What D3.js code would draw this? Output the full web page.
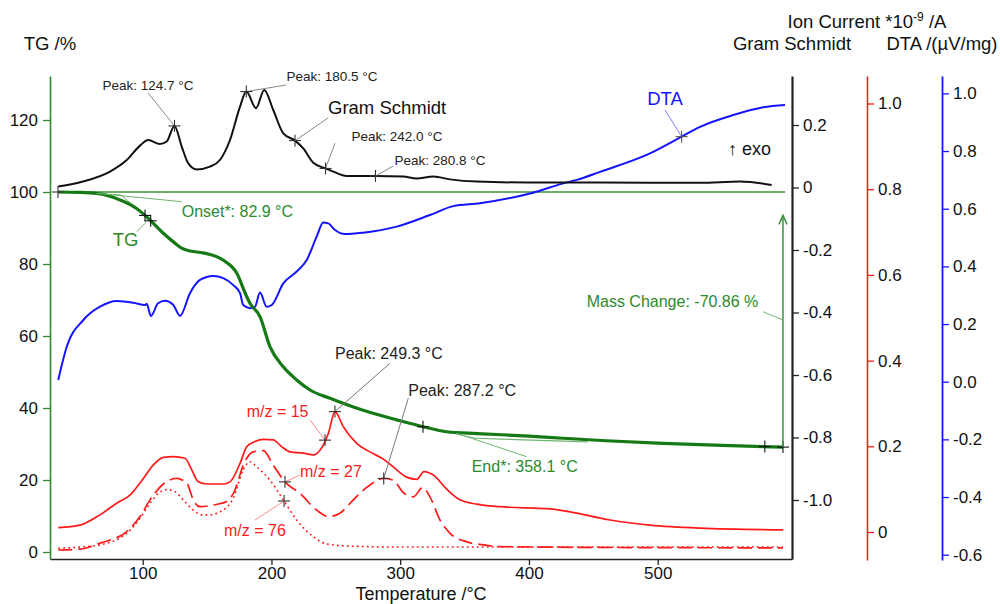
<!DOCTYPE html>
<html>
<head>
<meta charset="utf-8">
<script src="https://cdn.jsdelivr.net/npm/d3@7"></script>
<style>
  body { margin: 0; background: #fff; }
  svg { display: block; font-family: "Liberation Sans", Arial, sans-serif; }
</style>
</head>
<body>
<svg id="chart" width="1000" height="604"></svg>
<script>
// ---- TG mass curve (%) ----
const tgTemp  = [34.2, 50, 64.3, 82.4, 95, 103.1, 115.8, 125, 130.3, 137, 146.8, 162.4, 173, 180.8, 183.3, 191.1, 198.9, 209, 219.6, 230, 245.5, 270, 297.3, 317.7, 336.1, 360, 400, 426.4, 460, 504.1, 550, 597.3];
const tgValue = [100, 99.9, 99.6, 97.8, 95.5, 93.1, 88.6, 85.8, 84.4, 83.6, 83.1, 81.1, 77.5, 70.9, 69.1, 65.4, 57.0, 51.5, 47.8, 45.0, 42.7, 39.5, 36.7, 34.8, 33.4, 32.9, 32.2, 31.6, 30.9, 30.2, 29.6, 29.14];

// ---- Gram Schmidt signal ----
const gsTemp  = [34.4, 53.6, 74.6, 87.6, 97.9, 104.3, 113.4, 118.6, 124.7, 130.3, 135.4, 141.9, 152.3, 160, 167.8, 175.6, 180.5, 188, 194.4, 201.4, 209.2, 218.3, 224.7, 232.5, 242.0, 248, 258.4, 280.8, 302.4, 312.8, 325.7, 338.7, 359.4, 400, 455.2, 532.9, 563.9, 588.5];
const gsValue = [0.003, 0.019, 0.051, 0.088, 0.134, 0.152, 0.139, 0.147, 0.197, 0.131, 0.077, 0.058, 0.067, 0.088, 0.152, 0.259, 0.307, 0.254, 0.312, 0.248, 0.173, 0.150, 0.125, 0.079, 0.061, 0.051, 0.037, 0.037, 0.035, 0.029, 0.035, 0.026, 0.019, 0.016, 0.016, 0.015, 0.019, 0.008];

// ---- DTA signal (µV/mg) ----
const dtaTemp  = [34.4, 41, 53.9, 66.8, 79.8, 92.7, 101.8, 103.1, 106.4, 111.9, 117.3, 123.8, 129, 136.7, 144.5, 154.8, 162.6, 170.4, 175.6, 178.1, 183.5, 187.2, 191.1, 196.3, 200.2, 209.2, 219.6, 227.4, 235.1, 240.3, 244.2, 249.4, 257.1, 271.3, 297.3, 323.1, 341.2, 362, 400.8, 426.7, 437.1, 455.2, 494, 518.6, 532.9, 558.7, 582, 598.9];
const dtaValue = [0.006, 0.121, 0.214, 0.260, 0.280, 0.274, 0.266, 0.270, 0.228, 0.272, 0.281, 0.266, 0.228, 0.307, 0.353, 0.367, 0.359, 0.335, 0.307, 0.266, 0.255, 0.260, 0.309, 0.260, 0.266, 0.341, 0.382, 0.422, 0.503, 0.552, 0.549, 0.526, 0.512, 0.517, 0.538, 0.578, 0.609, 0.619, 0.653, 0.688, 0.700, 0.728, 0.792, 0.850, 0.884, 0.925, 0.952, 0.960];

// ---- Ion currents (*10^-9 A) ----
const mz15Temp  = [34.4, 51.3, 66.8, 79.8, 90.1, 100.5, 108.2, 116, 123.8, 132.9, 138.1, 143.2, 149.7, 162.6, 167.8, 175.6, 180.8, 187.2, 193.7, 201.4, 208, 214.4, 224.7, 232.5, 237.7, 244.2, 249.3, 255.8, 266.2, 276.5, 286.9, 294.6, 305, 312.8, 318.5, 325.7, 336.1, 346.4, 359.4, 377.5, 416.4, 431.9, 463, 494, 532.9, 597.5];
const mz15Value = [0.010, 0.016, 0.040, 0.067, 0.086, 0.125, 0.156, 0.174, 0.176, 0.172, 0.145, 0.117, 0.112, 0.112, 0.117, 0.160, 0.199, 0.211, 0.216, 0.215, 0.199, 0.187, 0.184, 0.180, 0.191, 0.230, 0.281, 0.246, 0.207, 0.187, 0.170, 0.152, 0.128, 0.123, 0.141, 0.133, 0.100, 0.075, 0.065, 0.059, 0.054, 0.047, 0.028, 0.016, 0.009, 0.005];

const mz27Temp  = [34.4, 51.3, 66.8, 87.6, 97.9, 105.7, 116, 126.2, 134.2, 139.3, 144.5, 154.8, 165.2, 171.7, 178.1, 185.9, 193.7, 201.4, 210.5, 222.2, 235.1, 244.2, 253.2, 263.6, 274, 287.2, 294.6, 302.4, 310.2, 317.5, 323.1, 330.9, 338.7, 351.7, 364.5, 377.5, 455.2, 597.3];
const mz27Value = [-0.042, -0.040, -0.026, 0.001, 0.036, 0.075, 0.112, 0.125, 0.114, 0.075, 0.059, 0.063, 0.071, 0.098, 0.156, 0.187, 0.190, 0.156, 0.117, 0.090, 0.051, 0.036, 0.044, 0.075, 0.104, 0.125, 0.121, 0.092, 0.082, 0.104, 0.082, 0.028, -0.003, -0.023, -0.030, -0.034, -0.036, -0.037];

const mz76Temp  = [34.4, 51.3, 66.8, 87.6, 97.9, 105.7, 112, 118.6, 125.1, 131.5, 139.3, 145.8, 152, 160, 170.4, 178.1, 183.3, 188.5, 198.9, 209.2, 219.6, 232.5, 242.9, 261, 299.8, 597.3];
const mz76Value = [-0.038, -0.035, -0.030, -0.003, 0.032, 0.067, 0.090, 0.099, 0.094, 0.075, 0.051, 0.040, 0.040, 0.047, 0.079, 0.145, 0.164, 0.152, 0.121, 0.075, 0.028, -0.011, -0.028, -0.033, -0.035, -0.035];

// ---- Axis ticks ----
const xMajorTicks   = [100, 200, 300, 400, 500];
const xMinorTicks   = [40, 60, 80, 120, 140, 160, 180, 220, 240, 260, 280, 320, 340, 360, 380, 420, 440, 460, 480, 520, 540, 560, 580, 600];
const tgMajorTicks  = [0, 20, 40, 60, 80, 100, 120];
const tgMinorTicks  = [10, 30, 50, 70, 90, 110, 130];
const gsMajorTicks  = [-1.0, -0.8, -0.6, -0.4, -0.2, 0, 0.2];
const gsMinorTicks  = [-1.1, -0.9, -0.7, -0.5, -0.3, -0.1, 0.1, 0.3];
const icMajorTicks  = [0, 0.2, 0.4, 0.6, 0.8, 1.0];
const icMinorTicks  = [0.1, 0.3, 0.5, 0.7, 0.9];
const dtaMajorTicks = [-0.6, -0.4, -0.2, 0, 0.2, 0.4, 0.6, 0.8, 1.0];
const dtaMinorTicks = [-0.5, -0.3, -0.1, 0.1, 0.3, 0.5, 0.7, 0.9];

// ---- Evaluated results ----
const onsetTemp = 82.9;
const endTemp = 358.1;
const massChange = -70.86;
const gsPeaks = [124.7, 180.5, 242.0, 280.8];
const mz15Peak = 249.3;
const mz27Peak = 287.2;

const GREEN = "#157a15", GREEN_TXT = "#2b8a2b", GREEN_THIN = "#6fb56f";
const RED = "#ff1a1a", BLUE = "#1414ff";
const svg = d3.select("#chart");
svg.append("rect").attr("width", 1000).attr("height", 604).attr("fill", "#fff");

// Stretch a calibrated scale over the drawn axis span
function span(scale, lo, hi) {
  return scale.copy().domain([scale.invert(lo), scale.invert(hi)]).range([lo, hi]);
}
const x    = span(d3.scaleLinear().domain([100, 500]).range([142.7, 657.7]), 50, 792);
const yTG  = span(d3.scaleLinear().domain([0, 100]).range([552, 192]), 559, 76);
const yGS  = span(d3.scaleLinear().domain([0, 0.2]).range([187.5, 125]), 559, 76);
const yIC  = span(d3.scaleLinear().domain([0, 1]).range([532, 103.5]), 560, 76);
const yDTA = span(d3.scaleLinear().domain([0, 1]).range([381.7, 93.4]), 560, 76);

// plain hyphen-minus number formats
const fmtInt = d => String(Math.round(d));
const fmt1 = d => (Math.abs(d) < 1e-9 ? 0 : d).toFixed(1);
const fmt1Zero = d => Math.abs(d) < 1e-9 ? "0" : d.toFixed(1);

function drawAxis(axisFn, scale, majors, minors, fmt, tx, ty, color, width, size, pad) {
  const g = svg.append("g").attr("transform", `translate(${tx},${ty})`);
  g.call(axisFn(scale).tickValues(minors).tickSize(4).tickSizeOuter(0).tickFormat(""));
  g.call(axisFn(scale).tickValues(majors).tickSize(size).tickPadding(pad).tickSizeOuter(0).tickFormat(fmt));
  g.selectAll("path.domain").attr("stroke", color).attr("stroke-width", width);
  g.selectAll(".tick line").attr("stroke", color).attr("stroke-width", 1.3);
  g.selectAll(".tick text").attr("fill", "#111").style("font-size", "17px")
    .style("font-family", '"Liberation Sans", Arial, sans-serif');
  return g;
}

drawAxis(d3.axisBottom, x, xMajorTicks, xMinorTicks, fmtInt, 0, 559, "#222", 1.6, 6, 2);
drawAxis(d3.axisLeft, yTG, tgMajorTicks, tgMinorTicks, fmtInt, 50, 0, "#2e8b2e", 1.6, 7, 5);
drawAxis(d3.axisRight, yGS, gsMajorTicks, gsMinorTicks, fmt1Zero, 792, 0, "#222", 2.2, 7, 4);
drawAxis(d3.axisRight, yIC, icMajorTicks, icMinorTicks, fmt1Zero, 867, 0, RED, 1.6, 7, 4);
drawAxis(d3.axisRight, yDTA, dtaMajorTicks, dtaMinorTicks, fmt1, 942, 0, BLUE, 1.8, 7, 4);

// ---- axis titles ----
const title = (txt, cx, by, fs) => svg.append("text").attr("x", cx).attr("y", by)
  .attr("text-anchor", "middle").style("font-size", (fs || 18.5) + "px").attr("fill", "#111").text(txt);
title("TG /%", 50, 50);
title("Gram Schmidt", 792, 50);
title("DTA /(µV/mg)", 942, 50);
title("Temperature /°C", 421, 600, 18);
const ion = svg.append("text").attr("x", 867).attr("y", 28).attr("text-anchor", "middle")
  .style("font-size", "18.5px").attr("fill", "#111");
ion.append("tspan").text("Ion Current *10");
ion.append("tspan").attr("dy", -7).style("font-size", "12px").text("-9");
ion.append("tspan").attr("dy", 7).text(" /A");

// ---- curves ----
const zip = (a, b) => a.map((t, i) => [t, b[i]]);
function curve(temps, vals, yScale, color, w, dash) {
  const line = d3.line().x(d => x(d[0])).y(d => yScale(d[1])).curve(d3.curveMonotoneX);
  const p = svg.append("path").datum(zip(temps, vals)).attr("d", line)
    .attr("fill", "none").attr("stroke", color).attr("stroke-width", w)
    .attr("stroke-linejoin", "round");
  if (dash) p.attr("stroke-dasharray", dash);
  return p;
}
function interp(temps, vals, t) {
  for (let i = 1; i < temps.length; i++) {
    if (t <= temps[i]) {
      const f = (t - temps[i - 1]) / (temps[i] - temps[i - 1]);
      return vals[i - 1] + f * (vals[i] - vals[i - 1]);
    }
  }
  return vals[vals.length - 1];
}
function thin(x1, y1, x2, y2, color, w) {
  svg.append("line").attr("x1", x1).attr("y1", y1).attr("x2", x2).attr("y2", y2)
    .attr("stroke", color).attr("stroke-width", w || 1);
}
function cross(px, py, color) {
  thin(px - 6, py, px + 6, py, color || "#333", 1.1);
  thin(px, py - 6, px, py + 6, color || "#333", 1.1);
}
function label(txt, px, py, size, color, anchor) {
  svg.append("text").attr("x", px).attr("y", py).attr("dy", "0.35em")
    .attr("text-anchor", anchor || "start").style("font-size", size + "px")
    .attr("fill", color).text(txt);
}

// TG 100 % reference line and onset / end construction lines
const tgStart = tgTemp[0], tgEnd = tgTemp[tgTemp.length - 1];
thin(x(tgStart), yTG(100), x(599), yTG(100), "#3c913c", 1.3);
const onsetTG = 99.2;
thin(x(tgStart), yTG(100), x(onsetTemp), yTG(onsetTG), GREEN_THIN, 1);
thin(x(onsetTemp), yTG(onsetTG), x(103), yTG(93.1), GREEN_THIN, 1);
const endTG = 31.6;
thin(x(336.1), yTG(33.4), x(endTemp), yTG(endTG), GREEN_THIN, 1.2);
thin(x(endTemp), yTG(endTG), x(445.6), yTG(30.6), GREEN_THIN, 1.2);

curve(mz76Temp, mz76Value, yIC, RED, 1.6, "1.8,3.2");
curve(mz27Temp, mz27Value, yIC, RED, 1.7, "14,6");
curve(mz15Temp, mz15Value, yIC, RED, 1.7);
curve(dtaTemp, dtaValue, yDTA, BLUE, 2);
curve(gsTemp, gsValue, yGS, "#111", 2);
curve(tgTemp, tgValue, yTG, GREEN, 3.2);

// ---- Gram Schmidt peaks ----
const gsLabels = [
  { lx: 148, ly: 85.7, ex: 148.3, ey: 93.3 },
  { lx: 332, ly: 76, ex: 286, ey: 85 },
  { lx: 397, ly: 136.7, ex: 335, ey: 143.3 },
  { lx: 440, ly: 160, ex: 393.3, ey: 166 }
];
gsPeaks.forEach((t, i) => {
  const px = x(t), py = yGS(interp(gsTemp, gsValue, t));
  const L = gsLabels[i];
  thin(L.ex, L.ey, px, py, "#888", 1);
  cross(px, py);
  label(`Peak: ${t.toFixed(1)} °C`, L.lx, L.ly, 13.5, "#222", "middle");
});
// curve name for Gram Schmidt
{
  const t = 218.3, px = x(t), py = yGS(interp(gsTemp, gsValue, t));
  thin(328, 118, px, py, "#888", 1);
  cross(px, py);
  label("Gram Schmidt", 328, 108, 18.5, "#111");
}

// ---- DTA name ----
{
  const t = 518.6, px = x(t), py = yDTA(interp(dtaTemp, dtaValue, t));
  thin(665, 110, px, py, "#7d7dff", 1);
  cross(px, py, "#555");
  label("DTA", 665, 98.3, 18.5, BLUE, "middle");
  label("↑ exo", 728, 148.3, 18, "#111");
}

// ---- TG annotations ----
cross(x(tgStart), yTG(100));
label(`Onset*: ${onsetTemp} °C`, 181.7, 211.7, 16, GREEN_TXT);
thin(181.7, 201.7, 96.7, 193.3, GREEN_THIN, 1);
[101.8, 106.2].forEach(t => cross(x(t), yTG(interp(tgTemp, tgValue, t)), "#111"));
thin(136.7, 231.7, x(101.8) + 1, yTG(interp(tgTemp, tgValue, 101.8)) + 7, GREEN_THIN, 1);
label("TG", 112.7, 240, 18.5, GREEN_TXT);
cross(x(317.7), yTG(interp(tgTemp, tgValue, 317.7)), "#111");
label(`End*: ${endTemp} °C`, 471.7, 466.7, 16, GREEN_TXT);
thin(526.7, 456.7, 456.7, 433.3, GREEN_THIN, 1);
cross(x(583.2), yTG(interp(tgTemp, tgValue, 583.2)), "#111");
cross(x(tgEnd), yTG(tgValue[tgValue.length - 1]), "#111");

// mass change arrow
{
  const ax = x(tgEnd), y0 = yTG(100 + massChange), y1 = yTG(93.5);
  thin(ax, y0, ax, y1, "#3c913c", 1.5);
  svg.append("path").attr("d", `M${ax - 4},${y1 + 9} L${ax},${y1} L${ax + 4},${y1 + 9}`)
    .attr("fill", "none").attr("stroke", "#3c913c").attr("stroke-width", 1.5);
  label(`Mass Change: ${massChange.toFixed(2)} %`, 586.7, 301.7, 16, GREEN_TXT);
  thin(763, 311.7, ax, 320, GREEN_THIN, 1);
}

// ---- ion current annotations ----
{
  const px = x(mz15Peak), py = yIC(interp(mz15Temp, mz15Value, mz15Peak));
  thin(390, 363.3, px, py, "#777", 1);
  cross(px, py);
  label(`Peak: ${mz15Peak} °C`, 335, 353.3, 16, "#222");
}
{
  const px = x(mz27Peak), py = yIC(interp(mz27Temp, mz27Value, mz27Peak));
  thin(408.3, 398.3, px, py, "#777", 1);
  cross(px, py);
  label(`Peak: ${mz27Peak} °C`, 408.3, 390, 16, "#222");
}
const ionNames = [
  { txt: "m/z = 15", temps: mz15Temp, vals: mz15Value, t: 241.6, lx: 246.7, ly: 411, ex: 310, ey: 420 },
  { txt: "m/z = 27", temps: mz27Temp, vals: mz27Value, t: 210.5, lx: 300, ly: 471, ex: 300, ey: 475 },
  { txt: "m/z = 76", temps: mz76Temp, vals: mz76Value, t: 209.8, lx: 224, ly: 530.7, ex: 255, ey: 520 }
];
ionNames.forEach(n => {
  const px = x(n.t), py = yIC(interp(n.temps, n.vals, n.t));
  thin(n.ex, n.ey, px, py, "#ff8a8a", 1);
  cross(px, py);
  label(n.txt, n.lx, n.ly, 16, RED);
});
</script>
</body>
</html>
